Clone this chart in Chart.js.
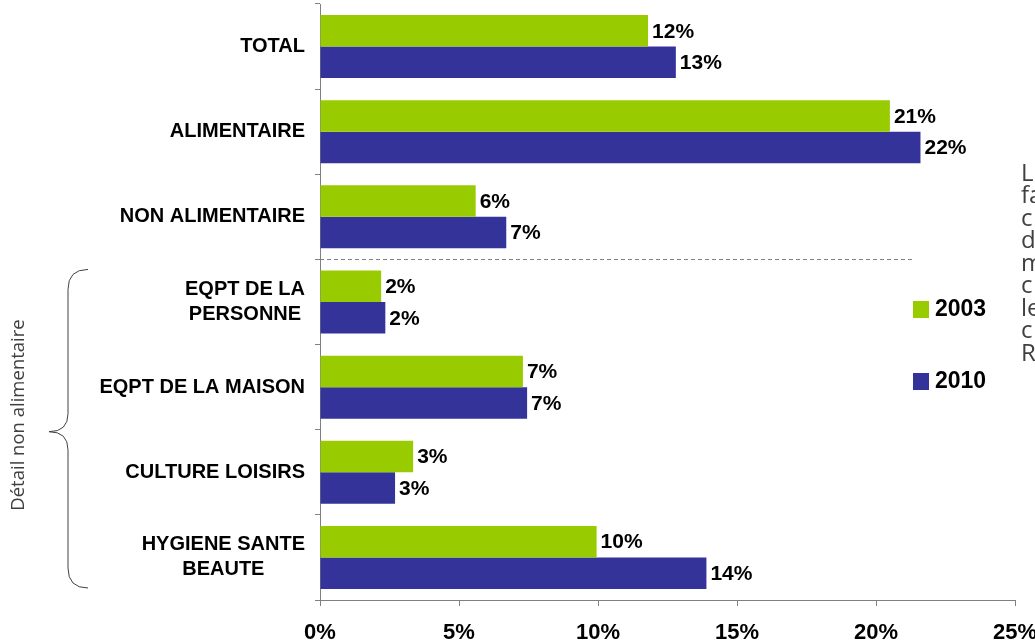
<!DOCTYPE html>
<html>
<head>
<meta charset="utf-8">
<script src="https://cdn.jsdelivr.net/npm/chart.js@4"></script>
<style>
    html, body { margin: 0; padding: 0; background: #fff; }
</style>
</head>
<body>
<canvas id="myChart" width="1035" height="642"></canvas>
<script>
// data
const categories = [
    ['TOTAL'],
    ['ALIMENTAIRE'],
    ['NON ALIMENTAIRE'],
    ['EQPT DE LA', 'PERSONNE'],
    ['EQPT DE LA MAISON'],
    ['CULTURE LOISIRS'],
    ['HYGIENE SANTE', 'BEAUTE']
];
const values2003 = [11.8, 20.5, 5.6, 2.2, 7.3, 3.35, 9.95];
const values2010 = [12.8, 21.6, 6.7, 2.35, 7.45, 2.7, 13.9];
const seriesNames = ['2003', '2010'];
const xTicks = [0, 5, 10, 15, 20, 25];
const groupNote = 'Détail non alimentaire';
const sideNote = ['L', 'fa', 'c', 'd', 'm', 'c', 'le', 'c', 'R'];

const colors = ['#99CC00', '#333399'];
const axisColor = '#808080';
const fontFamily = '"Liberation Sans", Arial, sans-serif';

const extras = {
    id: 'extras',
    afterDraw(chart) {
        const ctx = chart.ctx;
        const x = chart.scales.x;
        const y = chart.scales.y;
        ctx.save();

        // category labels, lines centred on each other, block right aligned
        ctx.font = 'bold 20px ' + fontFamily;
        ctx.fillStyle = '#000';
        ctx.textAlign = 'center';
        ctx.textBaseline = 'middle';
        categories.forEach((lines, i) => {
            let widest = Math.max(...lines.map(l => ctx.measureText(l).width));
            let cx = x.left - 15 - widest / 2;
            let cy = y.getPixelForValue(i);
            lines.forEach((l, j) => {
                ctx.fillText(l, cx, cy + (j - (lines.length - 1) / 2) * 25);
            });
        });

        // value labels
        ctx.textAlign = 'left';
        ctx.font = 'bold 21px ' + fontFamily;
        chart.data.datasets.forEach((ds, d) => {
            chart.getDatasetMeta(d).data.forEach((bar, i) => {
                ctx.fillText(Math.round(ds.data[i]) + '%', bar.x + 4, bar.y + 1);
            });
        });

        // dashed separator
        let sepY = (y.getPixelForValue(2) + y.getPixelForValue(3)) / 2;
        ctx.strokeStyle = axisColor;
        ctx.lineWidth = 1;
        ctx.setLineDash([4, 3]);
        ctx.beginPath();
        ctx.moveTo(x.left, Math.round(sepY) + 0.5);
        ctx.lineTo(x.getPixelForValue(21.4), Math.round(sepY) + 0.5);
        ctx.stroke();
        ctx.setLineDash([]);

        // legend
        ctx.font = 'bold 23px ' + fontFamily;
        seriesNames.forEach((name, k) => {
            let ly = 301 + k * 72;
            ctx.fillStyle = colors[k];
            ctx.fillRect(913, ly, 16, 17);
            ctx.fillStyle = '#000';
            ctx.fillText(name, 935, ly + 9);
        });

        // brace for the non food detail
        let top = sepY + 10, bottom = y.bottom - 12, mid = (top + bottom) / 2 + 3;
        ctx.strokeStyle = '#404040';
        ctx.beginPath();
        ctx.moveTo(88, top);
        ctx.quadraticCurveTo(68, top, 68, top + 20);
        ctx.lineTo(68, mid - 18);
        ctx.quadraticCurveTo(68, mid, 49, mid);
        ctx.quadraticCurveTo(68, mid, 68, mid + 18);
        ctx.lineTo(68, bottom - 20);
        ctx.quadraticCurveTo(68, bottom, 88, bottom);
        ctx.stroke();

        ctx.save();
        ctx.translate(19, 415);
        ctx.rotate(-Math.PI / 2);
        ctx.textAlign = 'center';
        ctx.font = '18.5px "Open Sans", sans-serif';
        ctx.fillStyle = '#404040';
        ctx.fillText(groupNote, 0, 0);
        ctx.restore();

        // text cut at the right edge
        ctx.font = '24px "Open Sans", sans-serif';
        ctx.fillStyle = '#404040';
        ctx.textAlign = 'left';
        sideNote.forEach((t, i) => {
            ctx.fillText(t, 1021, 174 + i * 22.5);
        });

        ctx.restore();
    }
};

let ctx = document.getElementById('myChart').getContext('2d');
let myChart = new Chart(ctx, {
    type: 'bar',
    data: {
        labels: categories,
        datasets: [{
            label: seriesNames[0],
            data: values2003,
            backgroundColor: colors[0]
        }, {
            label: seriesNames[1],
            data: values2010,
            backgroundColor: colors[1]
        }]
    },
    options: {
        indexAxis: 'y',
        responsive: false,
        animation: false,
        events: [],
        categoryPercentage: 0.74,
        barPercentage: 1.0,
        layout: {
            padding: { top: 4, right: 20, left: 0, bottom: 0 }
        },
        plugins: {
            legend: { display: false },
            title: { display: false },
            tooltip: { enabled: false }
        },
        scales: {
            x: {
                min: 0,
                max: 25,
                afterBuildTicks: s => { s.ticks = xTicks.map(v => ({ value: v })); },
                afterFit: s => { s.height = 42; s.paddingLeft = 0; s.paddingRight = 0; },
                ticks: {
                    color: '#000',
                    padding: 14,
                    maxRotation: 0,
                    font: { family: fontFamily, size: 22, weight: 'bold' },
                    callback: v => v + '%'
                },
                grid: { drawOnChartArea: false, drawTicks: true, tickLength: 6, color: axisColor },
                border: { color: axisColor }
            },
            y: {
                afterFit: s => { s.width = 320; },
                ticks: { display: false },
                grid: { drawOnChartArea: false, drawTicks: true, tickLength: 5, color: axisColor, offset: true },
                border: { color: axisColor }
            }
        }
    },
    plugins: [extras]
});
</script>
</body>
</html>
